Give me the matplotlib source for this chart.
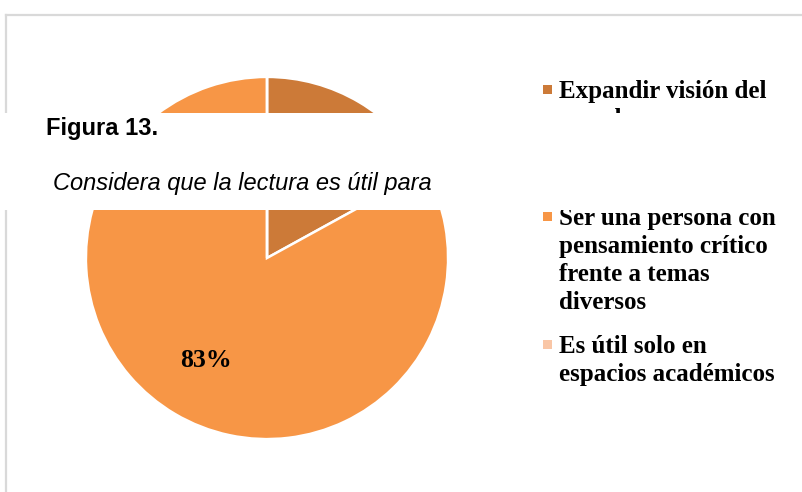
#!/usr/bin/env python3
"""Pie chart: Considera que la lectura es útil para (Figura 13)."""

import matplotlib

matplotlib.use("Agg")

import matplotlib.pyplot as plt  # noqa: E402
from matplotlib.patches import Rectangle  # noqa: E402

W, H = 803, 492

labels = [
    "Expandir visión del\nmundo",
    "Ser una persona con\npensamiento crítico\nfrente a temas\ndiversos",
    "Es útil solo en\nespacios académicos",
]
values = [17, 83, 0]
colors = ["#CC7A38", "#F79646", "#F9C6A6"]

title = "Figura 13."
subtitle = "Considera que la lectura es útil para"


def fx(px):
    return px / W


def fy(py):
    return 1 - py / H


def main() -> int:
    fig = plt.figure(figsize=(W / 100, H / 100), dpi=100)
    fig.patch.set_facecolor("white")

    # chart frame (only left and top edges are inside the picture)
    fig.add_artist(plt.Line2D([fx(6.5), fx(6.5)], [fy(15), 0], color="#d9d9d9", lw=1.6, zorder=1))
    fig.add_artist(plt.Line2D([fx(6.5), 1], [fy(15), fy(15)], color="#d9d9d9", lw=1.6, zorder=1))

    # pie, centre (267, 258), radius 182 px
    ax = fig.add_axes([fx(85), fy(440), fx(364), 364 / H])
    ax.pie(
        values,
        colors=colors,
        startangle=90,
        counterclock=False,
        radius=1.0,
        autopct=lambda p: f"{p:.0f}%",
        pctdistance=0.66,
        wedgeprops={"edgecolor": "white", "linewidth": 1.8},
        textprops={"family": "Liberation Serif", "fontweight": "bold", "fontsize": 18.5, "color": "black"},
    )
    ax.set_xlim(-1.005, 1.005)
    ax.set_ylim(-1.005, 1.005)
    ax.set_aspect("equal")
    ax.axis("off")

    # legend, drawn by hand to keep the Excel spacing
    baselines = [98, 225, 353]
    for label, color, base in zip(labels, colors, baselines):
        fig.add_artist(
            Rectangle((fx(543), fy(base - 4)), fx(9), 9 / H, facecolor=color, edgecolor="none", zorder=2)
        )
        for i, line in enumerate(label.split("\n")):
            fig.text(
                fx(559), fy(base + 28 * i), line,
                family="Liberation Serif", fontweight="bold", fontsize=18,
                ha="left", va="baseline", zorder=2,
            )

    # white caption box pasted over the chart
    fig.add_artist(Rectangle((0, fy(210)), 1, 97 / H, facecolor="white", edgecolor="none", zorder=5))
    fig.text(fx(46), fy(135), title, family="Liberation Sans", fontweight="bold",
             fontsize=17, ha="left", va="baseline", zorder=6)
    fig.text(fx(53), fy(190), subtitle, family="Liberation Sans", style="italic",
             fontsize=17, ha="left", va="baseline", zorder=6)

    fig.savefig("out.png", dpi=100)
    plt.close(fig)
    return 0


if __name__ == "__main__":
    raise SystemExit(main())
